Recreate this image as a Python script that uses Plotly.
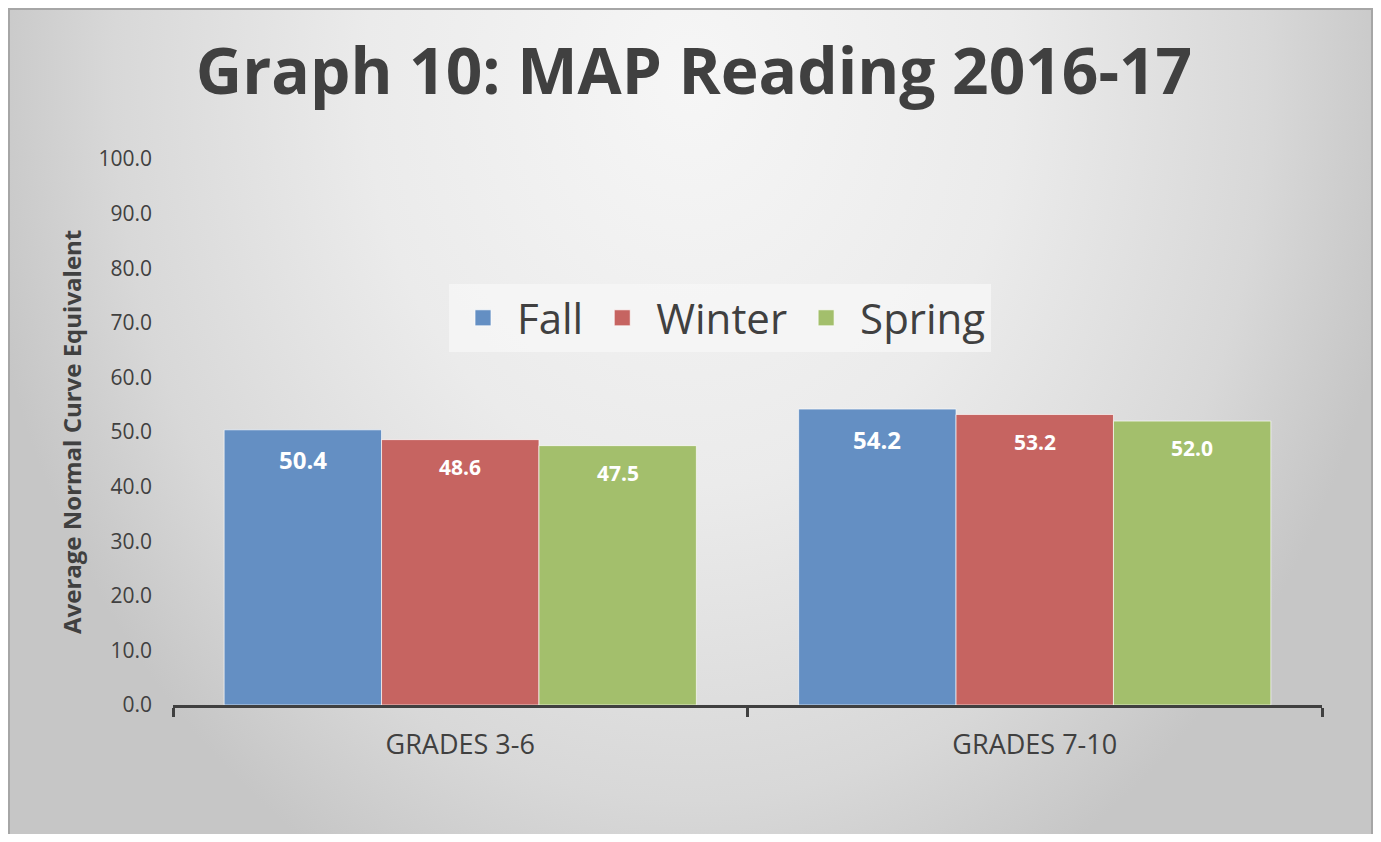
import base64
import plotly.graph_objects as go

# ---- data ----
categories = ["GRADES 3-6", "GRADES 7-10"]
series_names = ["Fall", "Winter", "Spring"]
fall = [50.4, 54.2]
winter = [48.6, 53.2]
spring = [47.5, 52.0]
y_ticks = [0, 10, 20, 30, 40, 50, 60, 70, 80, 90, 100]

title_text = "Graph 10: MAP Reading 2016-17"
y_title = "Average Normal Curve Equivalent"

# ---- style ----
colors = ["#648FC3", "#C66461", "#A3BF6C"]
label_sizes = [24, 21, 21]
label_shift = [-30, -27, -27]
FONT = "Open Sans"
DARK = "#404040"

W, H = 1365, 826
ML, MR, MT, MB = 165, 51, 151, 129
PW, PH = W - ML - MR, H - MT - MB
BARGAP = 0.178

svg = f'''<svg xmlns="http://www.w3.org/2000/svg" width="{W}" height="{H}" viewBox="0 0 {W} {H}" preserveAspectRatio="none">
<defs><radialGradient id="g" gradientUnits="userSpaceOnUse" cx="0" cy="0" r="1" gradientTransform="translate(682,72) scale(720,900)">
<stop offset="0" stop-color="#f6f6f6"/><stop offset="0.45" stop-color="#ebebeb"/><stop offset="0.8" stop-color="#d8d8d8"/><stop offset="1" stop-color="#c6c6c6"/></radialGradient></defs>
<rect width="{W}" height="{H}" fill="url(#g)"/>
<path d="M1,{H} V1 H{W-1} V{H}" fill="none" stroke="#a6a6a6" stroke-width="2"/>
</svg>'''
svg_uri = "data:image/svg+xml;base64," + base64.b64encode(svg.encode()).decode()

fig = go.Figure()
all_vals = [fall, winter, spring]
for name, vals, col in zip(series_names, all_vals, colors):
    fig.add_trace(go.Bar(
        x=categories, y=vals, name=name, showlegend=False,
        marker=dict(color=col, line=dict(color="rgba(255,255,255,0.65)", width=1)),
        hoverinfo="x+y+name",
    ))
# legend-only entries (bigger squares)
for name, col in zip(series_names, colors):
    fig.add_trace(go.Scatter(
        x=[None], y=[None], mode="markers", name=name,
        marker=dict(symbol="square", size=16, color=col,
                    line=dict(color="rgba(255,255,255,0.7)", width=1)),
    ))

# value labels
bw = (1 - BARGAP) / len(series_names)
annotations = []
for i, vals in enumerate(all_vals):
    for j, v in enumerate(vals):
        annotations.append(dict(
            x=j + (i - 1) * bw, y=v, xref="x", yref="y", text=f"{v:.1f}",
            showarrow=False, yanchor="middle", yshift=label_shift[i],
            font=dict(family=FONT, size=label_sizes[i], color="white", weight="bold"),
        ))
annotations.append(dict(
    x=-(102 / PW), y=0.5, xref="paper", yref="paper", text=f"<b>{y_title}</b>",
    textangle=-90, showarrow=False, xanchor="center", yanchor="middle",
    font=dict(family=FONT, size=24, color=DARK),
))

fig.update_layout(
    width=W, height=H, autosize=False,
    margin=dict(l=ML, r=MR, t=MT, b=MB, pad=0),
    paper_bgcolor="#d6d6d6", plot_bgcolor="rgba(0,0,0,0)",
    barmode="group", bargap=BARGAP, bargroupgap=0,
    title=dict(text=f"<b>{title_text}</b>", x=686 / W, xref="container", xanchor="center",
               y=1 - 64 / H, yref="container", yanchor="middle",
               font=dict(family=FONT, size=64, color=DARK)),
    font=dict(family=FONT, color=DARK),
    legend=dict(orientation="h", x=(712 - ML) / PW, y=1 - (310 - MT) / PH,
                xanchor="center", yanchor="middle", bgcolor="rgba(247,247,247,0.75)",
                font=dict(family=FONT, size=42, color=DARK), itemsizing="trace",
                itemwidth=58, traceorder="normal"),
    xaxis=dict(type="category", range=[-0.5, 1.5], showgrid=False, zeroline=False,
               showline=True, linecolor=DARK, linewidth=3,
               ticks="outside", tickson="boundaries", ticklen=9, tickwidth=3, tickcolor=DARK,
               tickfont=dict(family=FONT, size=27, color=DARK), ticklabelstandoff=14),
    yaxis=dict(range=[0, 100], tickvals=y_ticks, tickformat=".1f", showgrid=False,
               zeroline=False, showline=False, ticks="",
               tickfont=dict(family=FONT, size=21, color=DARK), ticklabelstandoff=20),
    annotations=annotations,
    images=[dict(source=svg_uri, xref="paper", yref="paper", x=-ML / PW, y=1 + MT / PH,
                 sizex=W / PW, sizey=H / PH, sizing="stretch", xanchor="left",
                 yanchor="top", layer="below")],
)

fig.write_html("out.html")
